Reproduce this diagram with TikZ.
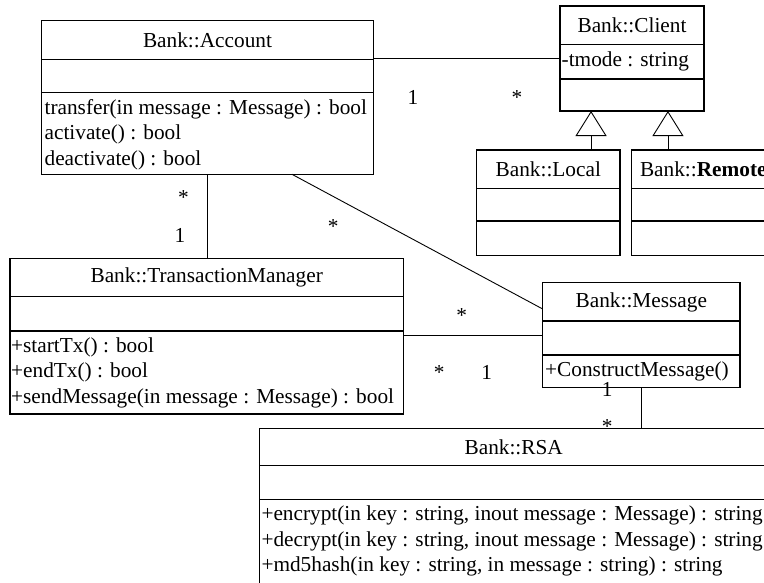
\documentclass[tikz,border=0pt]{standalone}
\usepackage{fontspec}
\setmainfont{Liberation Serif}
\usetikzlibrary{arrows.meta}

\tikzset{
  classbox/.style={draw, line width=1.4pt, inner sep=0pt, outer sep=0pt, anchor=north west},
  divider/.style={line width=1.4pt},
  link/.style={line width=0.9pt},
  title/.style={inner sep=0pt},
  member/.style={inner sep=0pt, anchor=base west},
  mult/.style={inner sep=0pt, anchor=base},
  gen/.style={link, -{Triangle[open, length=25pt, width=31pt, line width=0.9pt]}}
}

\begin{document}
\begin{tikzpicture}[x=1pt, y=-1pt, font=\fontsize{21.3}{25.5}\selectfont]
  \fill[white] (0,0) rectangle (764,582);
  \useasboundingbox (0,0) rectangle (764,582);
  \clip (0,0) rectangle (764,582);

  % Bank::Account
  \node[classbox, minimum width=332.4pt, minimum height=153.6pt] (acc) at (41.3,20.7) {};
  \draw[divider] ([yshift=-38.6pt]acc.north west) -- ([yshift=-38.6pt]acc.north east);
  \draw[divider] ([yshift=-72pt]acc.north west) -- ([yshift=-72pt]acc.north east);
  \node[title] (accT) at (207.5,40) {Bank::Account};
  \node[member] (accM1) at (44.4,114) {transfer(in message : Message) : bool};
  \node[member] (accM2) at (44.4,139.5) {activate() : bool};
  \node[member] (accM3) at (44.4,165) {deactivate() : bool};

  % Bank::Client
  \node[classbox, minimum width=144pt, minimum height=105pt] (cl) at (560,6) {};
  \draw[divider] ([yshift=-38.3pt]cl.north west) -- ([yshift=-38.3pt]cl.north east);
  \draw[divider] ([yshift=-73pt]cl.north west) -- ([yshift=-73pt]cl.north east);
  \node[title] (clT) at (632,25.5) {Bank::Client};
  \node[member] (clA1) at (561.5,66) {-tmode : string};

  % Bank::Local
  \node[classbox, minimum width=143.3pt, minimum height=105.7pt] (loc) at (476.7,150) {};
  \draw[divider] ([yshift=-38.3pt]loc.north west) -- ([yshift=-38.3pt]loc.north east);
  \draw[divider] ([yshift=-71pt]loc.north west) -- ([yshift=-71pt]loc.north east);
  \node[title] (locT) at (548.3,169.5) {Bank::Local};

  % Bank::Remote
  \node[classbox, minimum width=143.3pt, minimum height=105.7pt] (rem) at (631.7,150) {};
  \draw[divider] ([yshift=-38.3pt]rem.north west) -- ([yshift=-38.3pt]rem.north east);
  \draw[divider] ([yshift=-71pt]rem.north west) -- ([yshift=-71pt]rem.north east);
  \node[title] (remT) at (703.3,169.5) {Bank::\textbf{Remote}};

  % Bank::TransactionManager
  \node[classbox, minimum width=393.3pt, minimum height=155.7pt] (tm) at (10,258.3) {};
  \draw[divider] ([yshift=-38.4pt]tm.north west) -- ([yshift=-38.4pt]tm.north east);
  \draw[divider] ([yshift=-72.7pt]tm.north west) -- ([yshift=-72.7pt]tm.north east);
  \node[title] (tmT) at (206.7,277.5) {Bank::TransactionManager};
  \node[member] (tmM1) at (11,352.3) {+startTx() : bool};
  \node[member] (tmM2) at (11,377.8) {+endTx() : bool};
  \node[member] (tmM3) at (11,403.3) {+sendMessage(in message : Message) : bool};

  % Bank::Message
  \node[classbox, minimum width=197.3pt, minimum height=105pt] (msg) at (542.7,282.7) {};
  \draw[divider] ([yshift=-38.3pt]msg.north west) -- ([yshift=-38.3pt]msg.north east);
  \draw[divider] ([yshift=-72.3pt]msg.north west) -- ([yshift=-72.3pt]msg.north east);
  \node[title] (msgT) at (641.3,302) {Bank::Message};
  \node[member] (msgM1) at (545,376.5) {+ConstructMessage()};

  % Bank::RSA
  \node[classbox, minimum width=508.8pt, minimum height=170pt] (rsa) at (259.3,428.3) {};
  \draw[divider] ([yshift=-37.4pt]rsa.north west) -- ([yshift=-37.4pt]rsa.north east);
  \draw[divider] ([yshift=-71pt]rsa.north west) -- ([yshift=-71pt]rsa.north east);
  \node[title] (rsaT) at (513.7,447) {Bank::RSA};
  \node[member] (rsaM1) at (261.3,520.6) {+encrypt(in key : string, inout message : Message) : string};
  \node[member] (rsaM2) at (261.3,546.1) {+decrypt(in key : string, inout message : Message) : string};
  \node[member] (rsaM3) at (261.3,571.6) {+md5hash(in key : string, in message : string) : string};

  % associations
  \draw[link] (cl.west) -- (cl.west -| acc.east);
  \draw[link] (acc.south) -- (acc.south |- tm.north);
  \coordinate (accOut) at ([xshift=-81.7pt]acc.south east);
  \coordinate (msgIn) at ([yshift=-26.3pt]msg.north west);
  \draw[link] (accOut) -- (msgIn);
  \draw[link] (msg.west) -- (msg.west -| tm.east);
  \draw[link] (msg.south) -- (msg.south |- rsa.north);

  % generalizations
  \coordinate (locUp) at ([xshift=42.7pt]loc.north);
  \coordinate (remUp) at ([xshift=-35.4pt]rem.north);
  \draw[gen] (locUp) -- (locUp |- cl.south);
  \draw[gen] (remUp) -- (remUp |- cl.south);

  % multiplicities
  \node[mult] (mAC1) at (413,104.3) {1};
  \node[mult] (mAC2) at (517,104.5) {*};
  \node[mult] (mAT1) at (183.5,204) {*};
  \node[mult] (mAT2) at (180,242.7) {1};
  \node[mult] (mAM1) at (333.3,233) {*};
  \node[mult] (mTM1) at (461.7,322) {*};
  \node[mult] (mTM2) at (439.3,379) {*};
  \node[mult] (mTM3) at (486.7,379.3) {1};
  \node[mult] (mMR1) at (607.3,396.7) {1};
  \node[mult] (mMR2) at (607.3,433) {*};
\end{tikzpicture}
\end{document}
